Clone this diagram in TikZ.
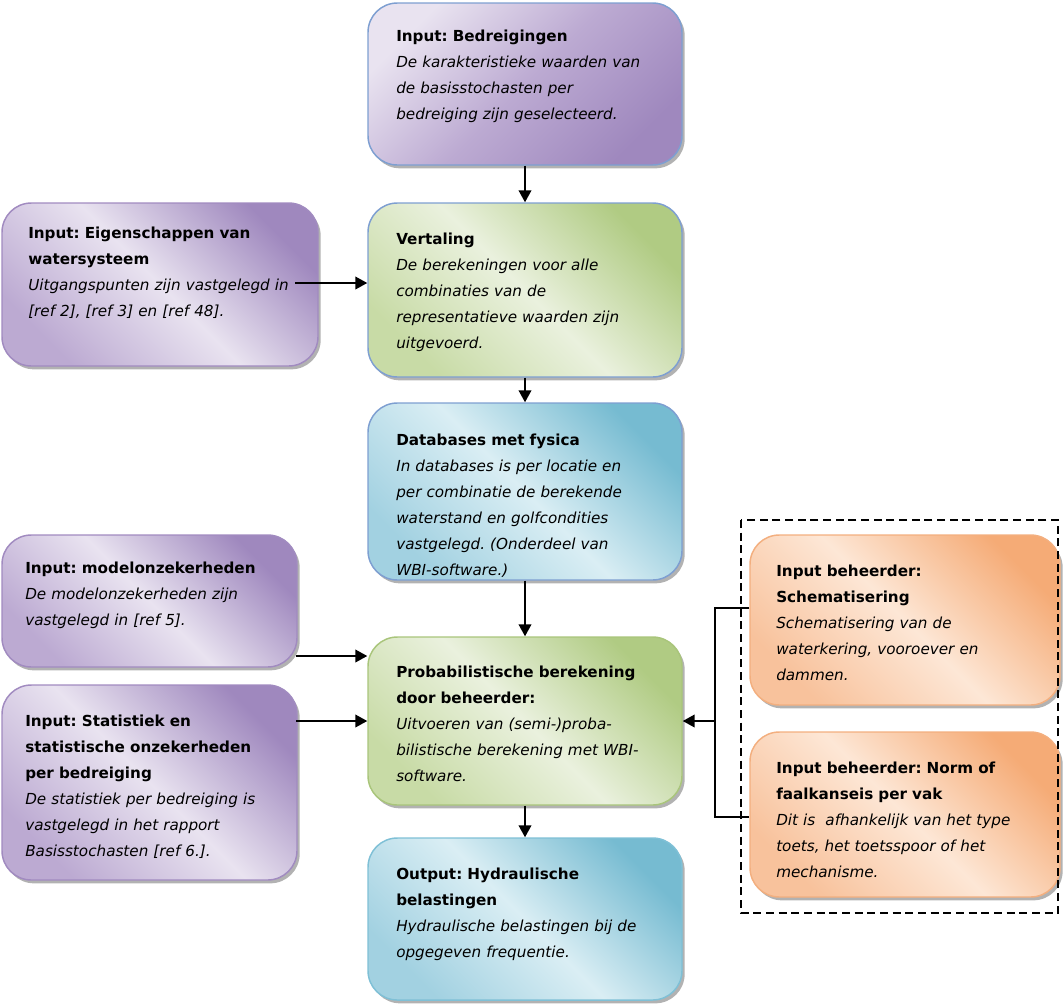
\documentclass[tikz,border=0pt]{standalone}
\usepackage{fontspec}
\setmainfont{DejaVu Sans}
\usetikzlibrary{shadows,arrows.meta}
\frenchspacing

\definecolor{pdark}{HTML}{9F88BE}
\definecolor{plight}{HTML}{E9E3F0}
\definecolor{pmid}{HTML}{BCAAD2}
\definecolor{gdark}{HTML}{B0CB83}
\definecolor{glight}{HTML}{EAF1DE}
\definecolor{gmid}{HTML}{C8DBA6}
\definecolor{bdark}{HTML}{76BBD1}
\definecolor{blight}{HTML}{DAEEF4}
\definecolor{bmid}{HTML}{A2D1E1}
\definecolor{odark}{HTML}{F5AB76}
\definecolor{olight}{HTML}{FDE7D6}
\definecolor{omid}{HTML}{F8C29C}
\definecolor{bordblue}{HTML}{7E9FD1}
\definecolor{bordgreen}{HTML}{A9C57B}
\definecolor{bordcyan}{HTML}{7FC0D6}
\definecolor{bordpurp}{HTML}{A18BC0}
\definecolor{bordorange}{HTML}{F3AF7F}

\pgfdeclarehorizontalshading{purpband}{100bp}{color(0bp)=(pmid); color(25bp)=(pmid); color(50bp)=(plight); color(75bp)=(pdark); color(100bp)=(pdark)}
\pgfdeclarehorizontalshading{purpdiag}{100bp}{color(0bp)=(plight); color(25bp)=(plight); color(50bp)=(pmid); color(75bp)=(pdark); color(100bp)=(pdark)}
\pgfdeclarehorizontalshading{greenband}{100bp}{color(0bp)=(gmid); color(25bp)=(gmid); color(50bp)=(glight); color(75bp)=(gdark); color(100bp)=(gdark)}
\pgfdeclarehorizontalshading{blueband}{100bp}{color(0bp)=(bmid); color(25bp)=(bmid); color(50bp)=(blight); color(75bp)=(bdark); color(100bp)=(bdark)}
\pgfdeclarehorizontalshading{orangeband}{100bp}{color(0bp)=(omid); color(25bp)=(omid); color(50bp)=(olight); color(75bp)=(odark); color(100bp)=(odark)}

\newcommand\hd[1]{\mbox{\bfseries #1}}
\newcommand\bd[1]{\mbox{\itshape #1}}

\tikzset{
  box/.style={rounded corners=22pt, line width=1.1pt, inner sep=0pt,
    drop shadow={shadow xshift=2pt, shadow yshift=-2.5pt, opacity=0.3, fill=black}},
  cbox/.style={box, minimum width=235.5pt},
  lbox/.style={box, minimum width=237pt},
  mbox/.style={box, minimum width=221.25pt},
  rbox/.style={box, minimum width=232.5pt},
  txt/.style={anchor=base west, inner sep=0pt, align=left, text width=210pt,
    font=\fontsize{11.4}{19.5}\selectfont},
  purpfill/.style={shading=purpband, shading angle=45, draw=bordpurp},
  purpdfill/.style={shading=purpdiag, shading angle=-45, draw=bordblue},
  greenfill/.style={shading=greenband, shading angle=45},
  bluefill/.style={shading=blueband, shading angle=45},
  orangefill/.style={shading=orangeband, shading angle=45, draw=bordorange},
  arr/.style={line width=1.4pt, -{Triangle[length=9pt,width=9.5pt]}},
  conn/.style={line width=1.4pt},
  grp/.style={line width=1pt, dash pattern=on 6pt off 3.5pt}
}

\begin{document}
\begin{tikzpicture}[x=0.75pt,y=-0.75pt]
\useasboundingbox (0,0) rectangle (1063,1007);

% boxes
\node[cbox, purpdfill, minimum height=121.5pt] (B1) at (525,84) {};
\node[cbox, greenfill, draw=bordblue, minimum height=130.5pt] (B2) at (525,290) {};
\node[lbox, purpfill, minimum height=122.25pt] (B3) at (160,284.5) {};
\node[cbox, bluefill, draw=bordblue, minimum height=132.75pt] (B4) at (525,491.5) {};
\node[mbox, purpfill, minimum height=99pt] (B5) at (149.5,601) {};
\node[mbox, purpfill, minimum height=146.25pt] (B6) at (149.5,782.5) {};
\node[cbox, greenfill, draw=bordgreen, minimum height=126pt] (B7) at (525,721) {};
\node[cbox, bluefill, draw=bordcyan, minimum height=121.5pt] (B8) at (525,919) {};
\node[rbox, orangefill, minimum height=127.5pt] (B9) at (905,620) {};
\node[rbox, orangefill, minimum height=123.75pt] (B10) at (905,814.5) {};

% texts
\node[txt] (T1) at (396,41)
  {\hd{Input: Bedreigingen}\\\bd{De karakteristieke waarden van}\\\bd{de basisstochasten per}\\\bd{bedreiging zijn geselecteerd.}};
\node[txt] (T2) at (396,244)
  {\hd{Vertaling}\\\bd{De berekeningen voor alle}\\\bd{combinaties van de}\\\bd{representatieve waarden zijn}\\\bd{uitgevoerd.}};
\node[txt] (T3) at (28,238)
  {\hd{Input: Eigenschappen van}\\\hd{watersysteem}\\\bd{Uitgangspunten zijn vastgelegd in}\\\bd{[ref 2], [ref 3] en [ref 48].}};
\node[txt] (T4) at (396,445)
  {\hd{Databases met fysica}\\\bd{In databases is per locatie en}\\\bd{per combinatie de berekende}\\\bd{waterstand en golfcondities}\\\bd{vastgelegd. (Onderdeel van}\\\bd{WBI-software.)}};
\node[txt] (T5) at (25,573)
  {\hd{Input: modelonzekerheden}\\\bd{De modelonzekerheden zijn}\\\bd{vastgelegd in [ref 5].}};
\node[txt] (T6) at (25,726)
  {\hd{Input: Statistiek en}\\\hd{statistische onzekerheden}\\\hd{per bedreiging}\\\bd{De statistiek per bedreiging is}\\\bd{vastgelegd in het rapport}\\\bd{Basisstochasten [ref 6.].}};
\node[txt] (T7) at (396,677)
  {\hd{Probabilistische berekening}\\\hd{door beheerder:}\\\bd{Uitvoeren van (semi-)proba-}\\\bd{bilistische berekening met WBI-}\\\bd{software.}};
\node[txt] (T8) at (396,879)
  {\hd{Output: Hydraulische}\\\hd{belastingen}\\\bd{Hydraulische belastingen bij de}\\\bd{opgegeven frequentie.}};
\node[txt] (T9) at (776,576)
  {\hd{Input beheerder:}\\\hd{Schematisering}\\\bd{Schematisering van de}\\\bd{waterkering, vooroever en}\\\bd{dammen.}};
\node[txt] (T10) at (776,773)
  {\hd{Input beheerder: Norm of}\\\hd{faalkanseis per vak}\\\bd{Dit is~ afhankelijk van het type}\\\bd{toets, het toetsspoor of het}\\\bd{mechanisme.}};

% dashed group frame
\draw[grp] (741,520) rectangle (1058,913);

% connectors
\draw[arr] (B1.south) -- (B2.north);
\draw[arr] (B2.south) -- (B4.north);
\draw[arr] (B4.south) -- (B7.north);
\draw[arr] (B7.south) -- (B8.north);

\coordinate (e1) at (295,283);
\draw[arr] (e1) -- (e1 -| B2.west);
\coordinate (m1) at (296,656);
\draw[arr] (m1) -- (m1 -| B7.west);
\coordinate (s1) at (296,721);
\draw[arr] (s1) -- (s1 -| B7.west);

\coordinate (j1) at (715,608);
\coordinate (j2) at (715,817);
\coordinate (j3) at (715,721);
\draw[conn] (j1 -| B9.west) -- (j1) -- (j2) -- (j2 -| B10.west);
\draw[arr] (j3) -- (j3 -| B7.east);
\end{tikzpicture}
\end{document}
